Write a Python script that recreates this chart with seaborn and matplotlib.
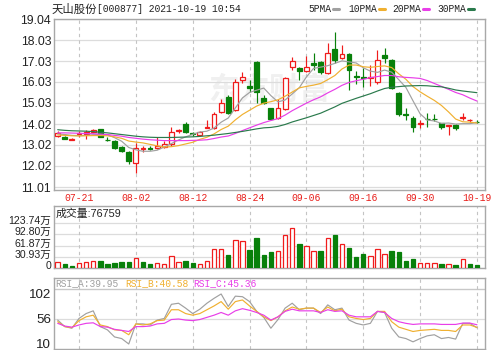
import numpy as np
import pandas as pd
import seaborn as sns
import matplotlib.pyplot as plt
from matplotlib.lines import Line2D
from matplotlib.transforms import ScaledTranslation

# daily candles, 60 trading days
dates = ["07-16", "07-19", "07-20", "07-21", "07-22", "07-23", "07-26", "07-27", "07-28", "07-29",
         "07-30", "08-02", "08-03", "08-04", "08-05", "08-06", "08-09", "08-10", "08-11", "08-12",
         "08-13", "08-16", "08-17", "08-18", "08-19", "08-20", "08-23", "08-24", "08-25", "08-26",
         "08-27", "08-30", "08-31", "09-01", "09-02", "09-06", "09-07", "09-08", "09-09", "09-10",
         "09-13", "09-14", "09-15", "09-16", "09-17", "09-22", "09-23", "09-24", "09-27", "09-28",
         "09-29", "09-30", "10-08", "10-11", "10-12", "10-13", "10-14", "10-15", "10-18", "10-19"]
open_ = [13.45, 13.41, 13.28, 13.55, 13.55, 13.62, 13.77, 13.28, 13.22, 12.94,
         12.70, 12.14, 12.82, 12.88, 12.86, 12.94, 13.06, 13.70, 14.03, 13.60,
         13.48, 13.84, 13.81, 14.61, 15.30, 14.69, 16.12, 15.84, 17.00, 15.25,
         14.77, 14.29, 14.72, 16.76, 16.68, 16.55, 16.92, 16.97, 16.44, 17.59,
         17.19, 17.35, 16.31, 16.27, 16.20, 16.04, 17.32, 17.08, 15.49, 14.52,
         14.29, 14.03, 14.27, 14.28, 14.05, 13.93, 13.97, 14.29, 14.21, 14.13]
close = [13.58, 13.33, 13.31, 13.60, 13.62, 13.72, 13.41, 13.24, 12.86, 12.75,
         12.25, 12.90, 12.86, 12.84, 12.96, 13.08, 13.65, 13.74, 13.62, 13.56,
         13.62, 13.88, 14.48, 15.01, 14.56, 16.04, 16.28, 15.75, 15.57, 15.04,
         14.25, 14.77, 16.20, 17.05, 16.55, 16.76, 16.84, 16.52, 17.40, 17.08,
         17.37, 16.60, 16.25, 16.24, 16.28, 17.08, 17.16, 15.73, 14.50, 14.47,
         13.86, 14.08, 14.24, 14.26, 13.89, 13.97, 13.81, 14.36, 14.23, 14.10]
high = [13.70, 13.45, 13.35, 13.70, 13.73, 13.78, 13.80, 13.42, 13.25, 12.98,
        12.73, 13.10, 12.98, 12.95, 13.41, 13.20, 13.89, 13.80, 14.12, 13.66,
        13.68, 14.20, 14.60, 15.20, 15.40, 16.15, 16.52, 16.12, 17.05, 15.40,
        14.80, 15.20, 16.25, 17.21, 16.75, 17.27, 17.40, 17.05, 17.88, 18.43,
        17.80, 17.40, 16.55, 16.70, 16.85, 17.56, 17.64, 17.15, 15.55, 14.80,
        14.40, 14.20, 14.55, 14.52, 14.05, 13.99, 14.00, 14.55, 14.28, 14.20]
low = [13.42, 13.30, 13.26, 13.41, 13.30, 13.58, 13.38, 13.20, 12.84, 12.70,
       12.09, 11.69, 12.70, 12.80, 12.84, 12.90, 12.98, 13.58, 13.60, 13.45,
       13.45, 13.82, 13.78, 14.53, 14.50, 14.65, 15.97, 15.57, 15.01, 14.98,
       14.22, 14.25, 14.68, 16.60, 16.12, 16.50, 16.60, 16.40, 16.40, 16.96,
       17.15, 15.65, 15.95, 15.80, 15.85, 15.95, 16.92, 15.70, 14.40, 14.20,
       13.65, 13.82, 13.90, 14.15, 13.77, 13.49, 13.73, 14.20, 14.14, 14.05]
volume = [16, 12, 6, 14, 18, 20, 20, 12, 14, 16,
          16, 28, 16, 12, 15, 12, 33, 18, 21, 14,
          13, 21, 52, 52, 37, 78, 75, 50, 81, 37,
          45, 48, 91, 109, 66, 61, 48, 48, 81, 91,
          66, 55, 30, 39, 34, 52, 39, 46, 45, 21,
          26, 14, 15, 14, 13, 13, 8, 25, 12, 7.68]
ma5 = [13.55, 13.52, 13.48, 13.47, 13.48, 13.51, 13.53, 13.51, 13.37, 13.20,
       12.90, 12.79, 12.72, 12.72, 12.77, 12.93, 13.09, 13.26, 13.41, 13.53,
       13.64, 13.68, 13.83, 14.11, 14.31, 14.79, 15.27, 15.53, 15.64, 15.74,
       15.38, 15.08, 15.17, 15.46, 15.76, 16.27, 16.68, 16.74, 16.81, 16.92,
       17.04, 16.99, 16.94, 16.71, 16.55, 16.49, 16.60, 16.50, 16.14, 15.77,
       15.13, 14.51, 14.21, 14.17, 14.05, 14.07, 14.02, 14.04, 14.04, 14.09]
ma10 = [13.50, 13.48, 13.46, 13.45, 13.46, 13.47, 13.47, 13.46, 13.41, 13.34,
        13.21, 13.16, 13.12, 13.05, 12.98, 12.92, 12.94, 12.99, 13.07, 13.15,
        13.29, 13.39, 13.55, 13.76, 13.92, 14.22, 14.48, 14.68, 14.88, 15.02,
        15.09, 15.18, 15.35, 15.55, 15.75, 15.82, 15.88, 15.96, 16.14, 16.34,
        16.65, 16.84, 16.84, 16.76, 16.73, 16.77, 16.80, 16.72, 16.42, 16.16,
        15.81, 15.56, 15.35, 15.15, 14.91, 14.60, 14.26, 14.13, 14.11, 14.07]
ma20 = [13.60, 13.60, 13.59, 13.58, 13.57, 13.56, 13.54, 13.52, 13.48, 13.44,
        13.38, 13.34, 13.30, 13.27, 13.25, 13.23, 13.23, 13.23, 13.23, 13.24,
        13.25, 13.27, 13.33, 13.40, 13.45, 13.57, 13.71, 13.84, 13.97, 14.09,
        14.19, 14.28, 14.45, 14.66, 14.84, 15.02, 15.18, 15.32, 15.51, 15.68,
        15.87, 16.01, 16.09, 16.16, 16.24, 16.29, 16.34, 16.34, 16.28, 16.25,
        16.23, 16.20, 16.10, 15.96, 15.82, 15.68, 15.53, 15.42, 15.26, 15.12]
ma30 = [13.75, 13.72, 13.70, 13.69, 13.68, 13.66, 13.63, 13.60, 13.56, 13.52,
        13.48, 13.44, 13.41, 13.39, 13.38, 13.38, 13.38, 13.39, 13.40, 13.41,
        13.43, 13.46, 13.49, 13.53, 13.57, 13.62, 13.67, 13.73, 13.79, 13.84,
        13.86, 13.91, 14.00, 14.12, 14.22, 14.32, 14.43, 14.54, 14.69, 14.84,
        15.01, 15.13, 15.25, 15.36, 15.47, 15.60, 15.72, 15.78, 15.81, 15.84,
        15.85, 15.86, 15.85, 15.82, 15.80, 15.73, 15.65, 15.60, 15.56, 15.52]
rsi_a = [54, 42, 39, 57, 66, 71, 42, 36, 23, 20,
         10, 47, 47, 45, 54, 57, 83, 85, 76, 66,
         74, 85, 94, 102, 79, 98, 97, 88, 70, 59,
         39, 55, 76, 85, 73, 76, 76, 66, 82, 73,
         76, 54, 48, 45, 48, 70, 68, 39, 23, 20,
         14, 20, 25, 27, 20, 22, 19, 48, 48, 39.95]
rsi_b = [51, 42, 40, 53, 60, 63, 45, 42, 36, 35,
         27, 47, 45, 47, 53, 54, 73, 73, 66, 63,
         66, 73, 80, 88, 74, 88, 91, 80, 70, 60,
         53, 60, 71, 78, 74, 76, 76, 68, 78, 71,
         74, 60, 57, 55, 57, 70, 70, 51, 41, 37,
         33, 35, 36, 37, 35, 35, 33, 45, 45, 40.58]
rsi_c = [48, 43, 41, 45, 48, 49, 42, 41, 37, 35,
         33, 42, 42, 43, 47, 48, 55, 56, 54, 53,
         55, 59, 63, 68, 63, 71, 75, 72, 68, 63,
         54, 60, 70, 74, 71, 71, 71, 68, 73, 70,
         71, 63, 60, 60, 60, 70, 68, 57, 51, 48,
         46, 47, 47, 47, 46, 46, 46, 48.5, 48.5, 45.36]

price_ticks = [11.01, 12.02, 13.02, 14.02, 15.03, 16.03, 17.03, 18.03, 19.04]
vol_ticks = [0, 30.93, 61.87, 92.80, 123.74]
vol_labels = ["0", "30.93万", "61.87万", "92.80万", "123.74万"]
rsi_ticks = [10, 56, 102]

RED = "#f01c1c"
GREEN = "#08800a"
MA_COLORS = {"5PMA": "#a0a0a0", "10PMA": "#f0b030", "20PMA": "#e83ee8", "30PMA": "#2a7a4c"}
RSI_COLORS = {"RSI_A": "#a0a0a0", "RSI_B": "#f0b030", "RSI_C": "#e83ee8"}

sns.set_style("white")
plt.rcParams["font.family"] = ["Liberation Sans", "Noto Sans CJK SC"]
MONO = ["Liberation Mono", "Noto Sans CJK SC"]

df = pd.DataFrame({"date": dates, "open": open_, "close": close, "high": high,
                   "low": low, "volume": volume})
df["idx"] = np.arange(len(df))
up = df["close"] >= df["open"]
vol_up = df["close"].diff().fillna(1) >= 0

ma = pd.DataFrame({"idx": df["idx"], "5PMA": ma5, "10PMA": ma10,
                   "20PMA": ma20, "30PMA": ma30}).melt("idx", var_name="line")
rsi = pd.DataFrame({"idx": df["idx"], "RSI_A": rsi_a, "RSI_B": rsi_b,
                    "RSI_C": rsi_c}).melt("idx", var_name="line")

fig = plt.figure(figsize=(4.99, 3.5), dpi=100)
W, H = 499, 350


def box(l, t, r, b):
    return [l / W, 1 - b / H, (r - l) / W, (b - t) / H]


ax = fig.add_axes(box(54, 19, 485, 190))
axv = fig.add_axes(box(54, 206, 485, 268.3))
axr = fig.add_axes(box(54, 278, 485, 349))

tick_idx = list(range(3, len(df), 8))
xlim = (-0.52, 60.13)

# --- candles ---
ax.text(0.5, 0.58, "东方财富", transform=ax.transAxes, fontsize=22, color="#f0f0f0",
        fontweight="bold", ha="center", va="center", zorder=0)
ax.vlines(df["idx"], df["low"], df["high"], colors=np.where(up, RED, GREEN), lw=0.85, zorder=3)
body_lo = np.minimum(df["open"], df["close"])
body_h = np.maximum((df["close"] - df["open"]).abs(), 0.012)
ax.bar(df["idx"][up], body_h[up], bottom=body_lo[up], width=0.68,
       facecolor="white", edgecolor=RED, lw=0.9, zorder=4)
ax.bar(df["idx"][~up], body_h[~up], bottom=body_lo[~up], width=0.68,
       facecolor=GREEN, edgecolor=GREEN, lw=0.9, zorder=4)
sns.lineplot(data=ma, x="idx", y="value", hue="line", palette=MA_COLORS,
             legend=False, lw=0.85, ax=ax, zorder=5)
ax.set_ylim(10.87, 19.04)
ax.set_yticks(price_ticks, [f"{v:.2f}" for v in price_ticks])
ax.set_xticks(tick_idx, [dates[i] for i in tick_idx])
for lbl in ax.get_xticklabels():
    lbl.set_fontfamily(MONO)
    lbl.set_color("#e8201c")
    lbl.set_fontsize(7)
ax.tick_params(axis="x", length=0, pad=2)
ax.tick_params(axis="y", length=0, pad=2, labelsize=8.8, labelcolor="#222222")

# --- volume ---
axv.bar(df["idx"][vol_up], df["volume"][vol_up], width=0.62,
        facecolor="white", edgecolor=RED, lw=0.9, zorder=3)
axv.bar(df["idx"][~vol_up], df["volume"][~vol_up], width=0.62,
        facecolor=GREEN, edgecolor=GREEN, lw=0.9, zorder=3)
axv.set_ylim(0, 169.1)
axv.set_yticks(vol_ticks, vol_labels)
axv.tick_params(axis="y", length=0, pad=2, labelsize=7.6, labelcolor="#222222")
off = ScaledTranslation(0, 3 / 100, fig.dpi_scale_trans)
for lbl in axv.get_yticklabels():
    lbl.set_transform(lbl.get_transform() + off)

# --- RSI ---
sns.lineplot(data=rsi, x="idx", y="value", hue="line", palette=RSI_COLORS,
             legend=False, lw=0.85, ax=axr, zorder=3)
axr.set_ylim(0.8, 131.4)
axr.set_yticks(rsi_ticks, [str(v) for v in rsi_ticks])
axr.axhline(111.2, color="#c8c8c8", lw=1, zorder=1)
axr.tick_params(axis="y", length=0, pad=2, labelsize=9.6, labelcolor="#222222")

for a in (ax, axv, axr):
    a.set_xlim(*xlim)
    a.set_xlabel("")
    a.set_ylabel("")
    a.grid(axis="y", color="#dcdcdc", lw=0.9, zorder=0)
    for i in tick_idx:
        a.axvline(i, color="#c4c4c4", lw=0.8, ls=(0, (3, 3)), zorder=1)
    for s in a.spines.values():
        s.set_color("#a8a8a8")
        s.set_linewidth(1)
for a in (axv, axr):
    a.set_xticks([])
    a.tick_params(axis="x", length=0)
axr.grid(False)
axr.axhline(56, color="#dcdcdc", lw=0.9, zorder=1)

# --- header texts ---
fig.text(52 / W, 1 - 9 / H, "天山股份", fontsize=8.2, color="#222222",
         family=["Noto Sans CJK SC"], va="center")
fig.text(97 / W, 1 - 9 / H, "[000877] 2021-10-19 10:54", fontsize=6.9,
         color="#222222", family=MONO, va="center")
leg = [("5PMA", 308, 333), ("10PMA", 348, 379), ("20PMA", 392, 423), ("30PMA", 437, 468)]
for name, tx, dx in leg:
    fig.text(tx / W, 1 - 9 / H, name, fontsize=6.9, color="#222222", family=MONO, va="center")
    fig.add_artist(Line2D([dx / W, (dx + 6) / W], [1 - 9 / H, 1 - 9 / H],
                          color=MA_COLORS[name], lw=2.2, transform=fig.transFigure))

fig.text(56 / W, 1 - 214 / H, "成交量:76759", fontsize=7.8, color="#222222", va="center")

rsi_last = [("RSI_A", rsi_a[-1], 55), ("RSI_B", rsi_b[-1], 125), ("RSI_C", rsi_c[-1], 193)]
for name, val, tx in rsi_last:
    fig.text(tx / W, 1 - 283.5 / H, f"{name}:{val:.2f}", fontsize=6.9,
             color=RSI_COLORS[name], family=MONO, va="center")

fig.savefig("out.png", dpi=100)
